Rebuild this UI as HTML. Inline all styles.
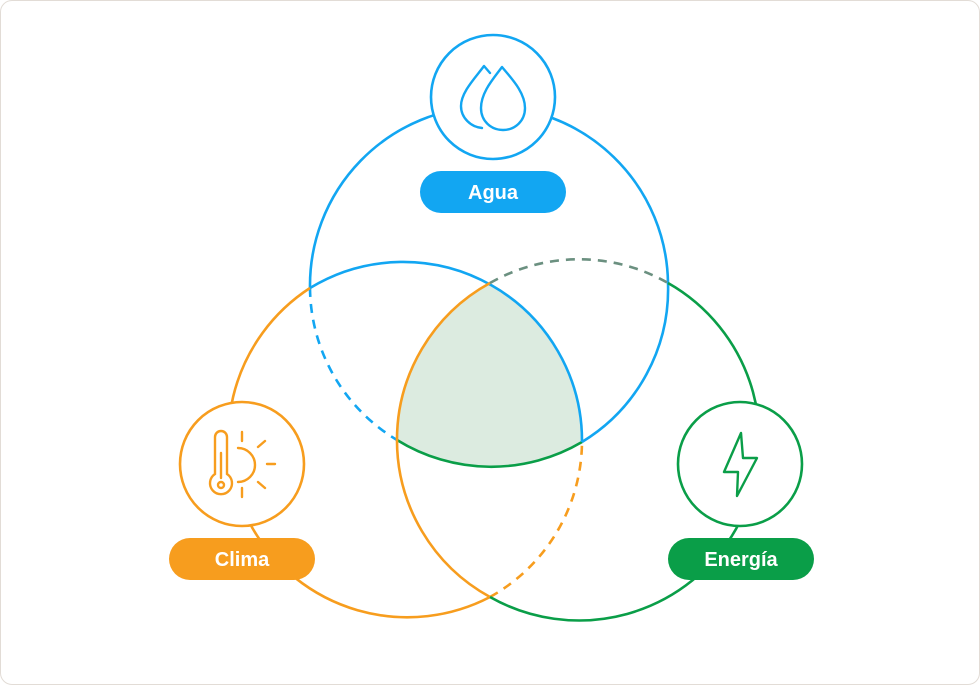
<!DOCTYPE html>
<html><head><meta charset="utf-8"><style>
html,body{margin:0;padding:0;background:#fff}
body{width:980px;height:685px;position:relative;overflow:hidden;font-family:"Liberation Sans",sans-serif}
.frame{position:absolute;left:0;top:0;width:978px;height:683px;border:1px solid #e2dcd6;border-radius:12px}
svg{position:absolute;left:0;top:0}
</style></head><body>
<div class="frame"></div>
<svg width="980" height="685" viewBox="0 0 980 685">
<g fill="none" stroke-width="2.6">
<path d="M490 283 A179 179 0 0 1 582 442 A179 179 0 0 1 397 440 A179 179 0 0 1 490 283 Z" fill="#dcebe0" stroke="none"/>
<path d="M310 288 A179 179 0 0 1 668 283" stroke="#12a6f2"/>
<path d="M310 288 A179 179 0 0 0 397 440" stroke="#12a6f2" stroke-dasharray="9 7"/>
<path d="M397 440 A179 179 0 0 0 582 442" stroke="#0a9e48"/>
<path d="M582 442 A179 179 0 0 0 668 283" stroke="#12a6f2"/>
<path d="M310 288 A179 179 0 0 0 490 597" stroke="#f79d1e"/>
<path d="M490 597 A179 179 0 0 0 582 442" stroke="#f79d1e" stroke-dasharray="9 7"/>
<path d="M582 442 A179 179 0 0 0 310 288" stroke="#12a6f2"/>
<path d="M668 283 A179 179 0 0 1 490 597" stroke="#0a9e48"/>
<path d="M490 597 A179 179 0 0 1 490 283" stroke="#f79d1e"/>
<path d="M490 283 A179 179 0 0 1 668 283" stroke="#6b9080" stroke-dasharray="9 7"/>
</g>
<circle cx="493" cy="97" r="62" fill="#fff" stroke="#12a6f2" stroke-width="2.6"/>
<circle cx="242" cy="464" r="62" fill="#fff" stroke="#f79d1e" stroke-width="2.6"/>
<circle cx="740" cy="464" r="62" fill="#fff" stroke="#0a9e48" stroke-width="2.6"/>
<g fill="none" stroke="#12a6f2" stroke-width="2.4" stroke-linecap="round" stroke-linejoin="round">
<path d="M490 73 L484 66 C476 77 461 92 461 106 C461 118 471 127 482 128"/>
<path d="M502 67 C494 78 481 92 481 108 C481 121 491 130 503 130 C515 130 525 121 525 108 C525 92 511 78 502 67 Z"/>
</g>
<g fill="none" stroke="#f79d1e" stroke-width="2.4" stroke-linecap="round">
<path d="M215 474 V437 a6 6 0 0 1 12 0 V474 a11 11 0 1 1 -12 0 Z"/>
<path d="M221 453 V478"/><circle cx="221" cy="485" r="3"/>
<path d="M238 448 a17 17 0 0 1 0 34"/>
<path d="M242 432 v9 M242 488 v9 M267 464 h8 M258 447 l7 -6 M258 482 l7 6"/>
</g>
<path d="M741 433 L724 472 H738 L737 496 L757 458 H743 Z" fill="none" stroke="#0a9e48" stroke-width="2.4" stroke-linejoin="round"/>
<rect x="420" y="171" width="146" height="42" rx="21" fill="#12a6f2"/>
<text x="493" y="199" fill="#fff" font-size="20" font-weight="bold" text-anchor="middle" font-family="Liberation Sans, sans-serif">Agua</text>
<rect x="169" y="538" width="146" height="42" rx="21" fill="#f79d1e"/>
<text x="242" y="566" fill="#fff" font-size="20" font-weight="bold" text-anchor="middle" font-family="Liberation Sans, sans-serif">Clima</text>
<rect x="668" y="538" width="146" height="42" rx="21" fill="#0a9e48"/>
<text x="741" y="566" fill="#fff" font-size="20" font-weight="bold" text-anchor="middle" font-family="Liberation Sans, sans-serif">Energía</text>
</svg>
</body></html>
